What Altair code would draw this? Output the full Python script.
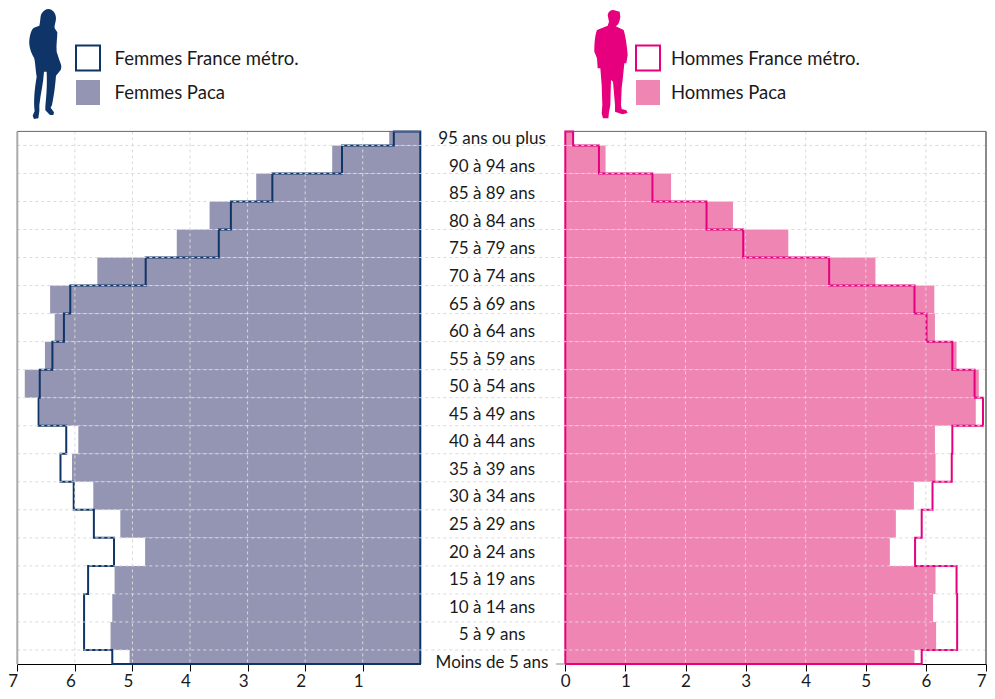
import altair as alt
import pandas as pd

FONT = "Lato"
TXT = "#1a1a1a"

ages = ["Moins de 5 ans", "5 à 9 ans", "10 à 14 ans", "15 à 19 ans", "20 à 24 ans", "25 à 29 ans",
        "30 à 34 ans", "35 à 39 ans", "40 à 44 ans", "45 à 49 ans", "50 à 54 ans", "55 à 59 ans",
        "60 à 64 ans", "65 à 69 ans", "70 à 74 ans", "75 à 79 ans", "80 à 84 ans", "85 à 89 ans",
        "90 à 94 ans", "95 ans ou plus"]
# age bands (youngest and oldest rows are half-height in the original)
band_low = [0, 2.5, 7.5, 12.5, 17.5, 22.5, 27.5, 32.5, 37.5, 42.5, 47.5, 52.5, 57.5, 62.5, 67.5, 72.5, 77.5, 82.5, 87.5, 92.5]
band_high = [2.5, 7.5, 12.5, 17.5, 22.5, 27.5, 32.5, 37.5, 42.5, 47.5, 52.5, 57.5, 62.5, 67.5, 72.5, 77.5, 82.5, 87.5, 92.5, 95]

femmes_paca = [5.05, 5.38, 5.35, 5.31, 4.78, 5.21, 5.68, 6.05, 5.94, 6.61, 6.87, 6.52, 6.35, 6.43, 5.61, 4.23, 3.66, 2.85, 1.53, 0.54]
femmes_france = [5.35, 5.84, 5.84, 5.77, 5.32, 5.67, 6.02, 6.25, 6.15, 6.63, 6.61, 6.39, 6.19, 6.08, 4.77, 3.50, 3.29, 2.57, 1.36, 0.46]
hommes_paca = [5.81, 6.17, 6.12, 6.16, 5.40, 5.50, 5.80, 6.16, 6.15, 6.83, 6.88, 6.51, 6.15, 6.14, 5.16, 3.71, 2.79, 1.76, 0.67, 0.13]
hommes_france = [5.93, 6.52, 6.52, 6.51, 5.82, 5.93, 6.11, 6.43, 6.44, 6.95, 6.81, 6.44, 6.01, 5.81, 4.39, 2.96, 2.35, 1.45, 0.56, 0.13]

ticks_left = [7, 6, 5, 4, 3, 2, 1]
ticks_right = [0, 1, 2, 3, 4, 5, 6, 7]
grid_ticks = [1, 2, 3, 4, 5, 6]

C_F_FILL, C_F_LINE = "#9494b3", "#0f3468"
C_H_FILL, C_H_LINE = "#ee85b3", "#e6007e"
C_GRID = "#dadada"

# chart pixel frame (page coordinates minus the 8px margin)
W, H = 979, 656
TOP = 123.4
L0, L1 = 9.3, 412.3
R0, R1 = 557.3, 978.0

xL = alt.Scale(domain=[7, 0], range=[L0, L1])
xR = alt.Scale(domain=[0, 7], range=[R0, R1])
yS = alt.Scale(domain=[0, 95], range=[H, TOP])

WOMAN = ("M85 12 C98 12 108 25 108 40 C108 52 102 62 104 70 L112 82 C112 100 108 120 110 140 L118 165 "
         "C124 180 126 185 122 195 L108 212 C106 240 102 270 96 300 L92 308 L102 322 L100 330 L90 330 "
         "L76 316 L76 305 C78 280 82 250 80 200 L72 200 C70 235 62 265 58 300 L58 318 L55 340 L42 342 "
         "L38 332 L44 318 C40 290 44 250 50 215 C46 190 46 170 42 158 C34 145 26 125 28 105 C30 90 34 72 42 68 "
         "L58 62 C62 50 60 30 66 24 C72 16 78 12 85 12 Z")
MAN = ("M85 15 L104 20 L106 35 C104 50 100 60 92 64 L116 75 C122 95 126 125 128 150 L124 175 L118 175 "
       "L114 215 L110 250 L108 300 L110 312 L124 316 L128 324 L112 328 L90 320 L90 300 L84 230 L78 225 "
       "L76 300 L72 322 L70 340 L54 340 L50 325 L52 300 L50 240 L46 190 L38 190 L36 160 L28 140 "
       "C28 115 30 90 36 75 L68 62 L72 50 L68 30 C70 20 76 15 85 15 Z")

bars = pd.DataFrame({"age": ages, "lo": band_low, "hi": band_high, "zero": 0,
                     "fp": femmes_paca, "hp": hommes_paca})


def outline(vals):
    rows = [(0, 0)]
    for v, lo, hi in zip(vals, band_low, band_high):
        rows += [(v, lo), (v, hi)]
    rows += [(0, 95), (0, 0)]
    return pd.DataFrame([{"v": a, "y": b, "i": i} for i, (a, b) in enumerate(rows)])


def fill_layer(field, sc, color):
    return alt.Chart(bars).mark_rect(color=color, stroke=None).encode(
        x=alt.X(f"{field}:Q", scale=sc, axis=None), x2="zero:Q",
        y=alt.Y("hi:Q", scale=yS, axis=None), y2="lo:Q")


def line_layer(vals, sc, color):
    return alt.Chart(outline(vals)).mark_line(color=color, strokeWidth=2, strokeJoin="miter", clip=False).encode(
        x=alt.X("v:Q", scale=sc, axis=None), y=alt.Y("y:Q", scale=yS, axis=None), order="i:Q")


def axis_layer(ticks, sc, offset, align):
    ax = alt.Axis(orient="bottom", values=ticks, title=None, grid=False, tickSize=7, tickColor="black",
                  domainColor="black", labelFont=FONT, labelFontSize=17, labelColor=TXT, labelPadding=2,
                  labelOffset=offset, labelAlign=align, labelFlush=False, labelOverlap=False, format="d",
                  tickWidth=1, domainWidth=1)
    return alt.Chart(pd.DataFrame({"v": ticks})).mark_point(opacity=0).encode(
        x=alt.X("v:Q", scale=sc, axis=ax), y=alt.value(H))


def vgrid(sc):
    return alt.Chart(pd.DataFrame({"v": grid_ticks})).mark_rule(color=C_GRID, strokeDash=[3, 3], strokeWidth=1).encode(
        x=alt.X("v:Q", scale=sc, axis=None), y=alt.value(TOP), y2=alt.value(H))


hgrid = alt.Chart(pd.DataFrame({"b": band_high[:-1]})).mark_rule(color=C_GRID, strokeDash=[3, 3], strokeWidth=1).encode(
    y=alt.Y("b:Q", scale=yS, axis=None), x=alt.value(L0), x2=alt.value(R1))


def vborder(x, color):
    return alt.Chart(pd.DataFrame({"a": [0]})).mark_rule(color=color, strokeWidth=2).encode(
        x=alt.value(x), y=alt.value(TOP), y2=alt.value(H))


def hborder(x0, x1, y, color):
    return alt.Chart(pd.DataFrame({"a": [0]})).mark_rule(color=color, strokeWidth=1).encode(
        x=alt.value(x0), x2=alt.value(x1), y=alt.value(y))


labels = alt.Chart(pd.DataFrame({"age": ages})).mark_text(
    font=FONT, fontSize=17, color=TXT, align="center", baseline="middle").encode(
    x=alt.value(484),
    y=alt.Y("age:N", axis=None, scale=alt.Scale(type="point", domain=ages, range=[654.7, 131.3], padding=0)),
    text="age:N")


def swatch(x0, y0, fill, stroke):
    kw = {"stroke": stroke, "strokeWidth": 2} if stroke else {}
    return alt.Chart(pd.DataFrame({"a": [0]})).mark_rect(color=fill, **kw).encode(
        x=alt.value(x0), x2=alt.value(x0 + 24), y=alt.value(y0), y2=alt.value(y0 + 25))


def legend_text(x, y, s):
    return alt.Chart(pd.DataFrame({"t": [s]})).mark_text(
        font=FONT, fontSize=18.5, color=TXT, align="left", baseline="middle").encode(
        x=alt.value(x), y=alt.value(y), text="t:N")


def figure(path, x, y, color):
    return alt.Chart(pd.DataFrame({"a": [0]})).mark_point(
        shape=path, size=4 / 9, filled=True, color=color, opacity=1, strokeWidth=0).encode(
        x=alt.value(x), y=alt.value(y))


chart = alt.layer(
    axis_layer(ticks_left, xL, -4.5, "center"),
    axis_layer(ticks_right, xR, 0, {"condition": {"test": "datum.value == 7", "value": "right"}, "value": "center"}),
    fill_layer("fp", xL, C_F_FILL),
    fill_layer("hp", xR, C_H_FILL),
    line_layer(femmes_france, xL, C_F_LINE),
    line_layer(hommes_france, xR, C_H_LINE),
    vgrid(xL), vgrid(xR), hgrid,
    vborder(L0, "#aaaaaa"), vborder(R1, "#8a8a8a"),
    hborder(L0, L1, TOP, "#666666"), hborder(R0, R1, TOP, "#666666"),
    hborder(548, R0, H, "#8a8a8a"),
    labels,
    swatch(68, 37.5, "white", C_F_LINE), swatch(68, 72, C_F_FILL, None),
    swatch(628, 37.5, "white", C_H_LINE), swatch(628, 72, C_H_FILL, None),
    legend_text(106.5, 51, "Femmes France métro."), legend_text(106.5, 84.5, "Femmes Paca"),
    legend_text(663, 51, "Hommes France métro."), legend_text(663, 84.5, "Hommes Paca"),
    figure(WOMAN, 12, -3, C_F_LINE), figure(MAN, 577, -3, C_H_LINE),
).resolve_scale(x="independent", y="independent").properties(
    width=W, height=H, autosize=alt.AutoSizeParams(type="none"), background="white",
    padding={"left": 0, "top": 0, "right": 0, "bottom": 27},
).configure_view(stroke=None)

chart.save("out.html", embed_options={"renderer": "svg", "actions": False})
